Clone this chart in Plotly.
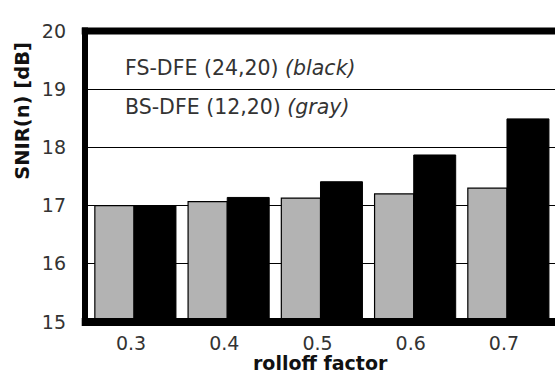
import plotly.graph_objects as go

categories = ["0.3", "0.4", "0.5", "0.6", "0.7"]
bs_dfe_gray = [17.00, 17.07, 17.13, 17.20, 17.30]
fs_dfe_black = [17.00, 17.14, 17.41, 17.87, 18.49]
y_ticks = [15, 16, 17, 18, 19, 20]

FONT = "DejaVu Sans"
TXT = "#333333"

fig = go.Figure()
fig.add_trace(go.Bar(
    x=categories, y=bs_dfe_gray, width=0.42, offset=-0.42,
    marker=dict(color="#b3b3b3", line=dict(color="black", width=1.2)),
    name="BS-DFE (12,20)", showlegend=False,
))
fig.add_trace(go.Bar(
    x=categories, y=fs_dfe_black, width=0.45, offset=0.0,
    marker=dict(color="black", line=dict(color="black", width=1)),
    name="FS-DFE (24,20)", showlegend=False,
))

fig.update_layout(
    width=555, height=377,
    margin=dict(l=85, r=0, t=31, b=55),
    paper_bgcolor="white", plot_bgcolor="white",
    barmode="group",
    font=dict(family=FONT, size=19, color=TXT),
    xaxis=dict(
        type="category", range=[-0.5255, 4.515],
        showgrid=False, zeroline=False, showline=False,
        ticks="", ticklabelstandoff=8, ticklabelshift=-3,
        tickfont=dict(family=FONT, size=19, color=TXT),
    ),
    yaxis=dict(
        range=[15, 20], tickvals=y_ticks,
        showgrid=True, gridcolor="black", gridwidth=1.2,
        zeroline=False, showline=False, ticks="",
        ticklabelstandoff=18,
        tickfont=dict(family=FONT, size=19, color=TXT),
    ),
    shapes=[
        dict(type="line", xref="paper", yref="paper", x0=-0.007, x1=1, y0=1, y1=1,
             line=dict(color="black", width=7)),
        dict(type="line", xref="paper", yref="paper", x0=-0.007, x1=1, y0=0, y1=0,
             line=dict(color="black", width=8)),
        dict(type="line", xref="paper", yref="paper", x0=0, x1=0, y0=-0.014, y1=1.012,
             line=dict(color="black", width=6)),
    ],
    annotations=[
        dict(text="FS-DFE (24,20) <i>(black)</i>", xref="paper", yref="paper",
             x=(123 - 85) / 470, y=1 - (68 - 31) / 291.5, xanchor="left", yanchor="middle",
             showarrow=False, font=dict(family=FONT, size=20.5, color=TXT)),
        dict(text="BS-DFE (12,20) <i>(gray)</i>", xref="paper", yref="paper",
             x=(123 - 85) / 470, y=1 - (107 - 31) / 291.5, xanchor="left", yanchor="middle",
             showarrow=False, font=dict(family=FONT, size=20.5, color=TXT)),
        dict(text="<b>rolloff factor</b>", xref="paper", yref="paper",
             x=(320 - 85) / 470, y=(322.5 - 364) / 291.5, xanchor="center", yanchor="middle",
             showarrow=False, font=dict(family=FONT, size=19, color="#111111")),
        dict(text="<b>SNIR(n) [dB]</b>", xref="paper", yref="paper", textangle=-90,
             x=(23 - 85) / 470, y=1 - (111 - 31) / 291.5, xanchor="center", yanchor="middle",
             showarrow=False, font=dict(family=FONT, size=19.5, color="#111111")),
    ],
)

fig.write_html("out.html")
